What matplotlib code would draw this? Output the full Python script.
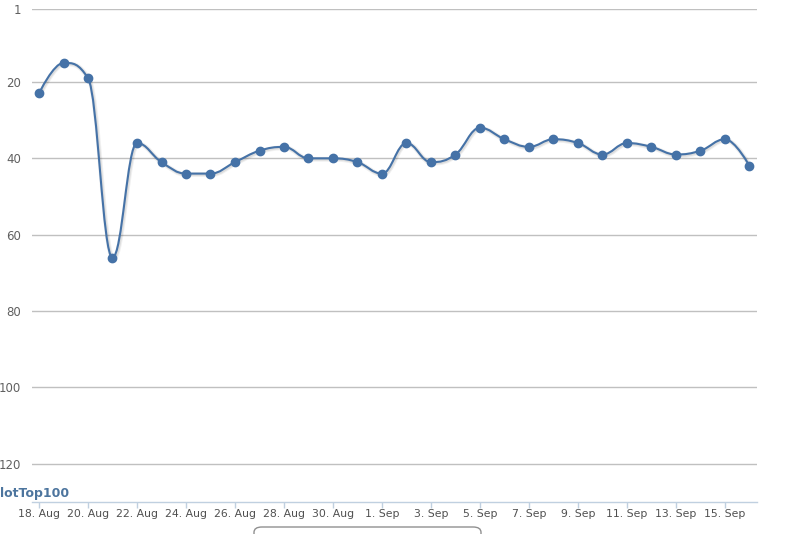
import matplotlib
matplotlib.use("Agg")
import matplotlib.pyplot as plt
from matplotlib.path import Path
from matplotlib.patches import PathPatch, FancyBboxPatch
import numpy as np

# ---- data ----
dates = ["18. Aug", "19. Aug", "20. Aug", "21. Aug", "22. Aug", "23. Aug", "24. Aug", "25. Aug",
         "26. Aug", "27. Aug", "28. Aug", "29. Aug", "30. Aug", "31. Aug", "1. Sep", "2. Sep",
         "3. Sep", "4. Sep", "5. Sep", "6. Sep", "7. Sep", "8. Sep", "9. Sep", "10. Sep",
         "11. Sep", "12. Sep", "13. Sep", "14. Sep", "15. Sep", "16. Sep"]
ranks = [23, 15, 19, 66, 36, 41, 44, 44, 41, 38, 37, 40, 40, 41, 44, 36,
         41, 39, 32, 35, 37, 35, 36, 39, 36, 37, 39, 38, 35, 42]
y_ticks = [1, 20, 40, 60, 80, 100, 120]
x_tick_labels = dates[::2]
title_text = "lotTop100"

W, H = 787, 534
fig = plt.figure(figsize=(W / 100, H / 100), dpi=100)
left, right, top, bottom = 32, 757, 9.4, 502
ax = fig.add_axes([left / W, (H - bottom) / H, (right - left) / W, (bottom - top) / H])

x = np.arange(len(ranks), dtype=float)
y = np.array(ranks, dtype=float)

# Highcharts-style spline control points
def hc_spline(xs, ys, smoothing=1.5):
    denom = smoothing + 1
    n = len(xs)
    lc = [None] * n
    rc = [None] * n
    for i in range(1, n - 1):
        px, py = xs[i], ys[i]
        lx, ly = xs[i - 1], ys[i - 1]
        nx, ny = xs[i + 1], ys[i + 1]
        lcx = (smoothing * px + lx) / denom
        lcy = (smoothing * py + ly) / denom
        rcx = (smoothing * px + nx) / denom
        rcy = (smoothing * py + ny) / denom
        corr = ((rcy - lcy) * (rcx - px)) / (rcx - lcx) + py - rcy
        lcy += corr
        rcy += corr
        if lcy > ly and lcy > py:
            lcy = max(ly, py); rcy = 2 * py - lcy
        elif lcy < ly and lcy < py:
            lcy = min(ly, py); rcy = 2 * py - lcy
        if rcy > ny and rcy > py:
            rcy = max(ny, py); lcy = 2 * py - rcy
        elif rcy < ny and rcy < py:
            rcy = min(ny, py); lcy = 2 * py - rcy
        lc[i] = (lcx, lcy)
        rc[i] = (rcx, rcy)
    verts = [(xs[0], ys[0])]
    codes = [Path.MOVETO]
    for i in range(1, n):
        c1 = rc[i - 1] if rc[i - 1] is not None else (xs[i - 1], ys[i - 1])
        c2 = lc[i] if lc[i] is not None else (xs[i], ys[i])
        verts += [c1, c2, (xs[i], ys[i])]
        codes += [Path.CURVE4] * 3
    return Path(verts, codes)

path = hc_spline(x, y)
color = "#4572A7"
off = matplotlib.transforms.ScaledTranslation(1 / 100, -1 / 100, fig.dpi_scale_trans)
ax.add_patch(PathPatch(path, facecolor="none", edgecolor="black", lw=3.5, alpha=0.06,
                       transform=ax.transData + off, zorder=2))
ax.add_patch(PathPatch(path, facecolor="none", edgecolor="black", lw=2, alpha=0.08,
                       transform=ax.transData + off, zorder=2))
ax.add_patch(PathPatch(path, facecolor="none", edgecolor=color, lw=1.5, zorder=3,
                       capstyle="round", joinstyle="round"))
ax.plot(x, y, linestyle="none", marker="o", markersize=6, color=color, zorder=4)

ax.set_xlim(-7 / 24.5, (757 - 39) / 24.5)
ax.set_ylim(130, 1)
ax.set_yticks(y_ticks)
ax.set_yticklabels([str(t) for t in y_ticks])
ax.set_xticks(x[::2])
ax.set_xticklabels(x_tick_labels)

for s in ["top", "right", "left"]:
    ax.spines[s].set_visible(False)
ax.spines["bottom"].set_color("#C0D0E0")
ax.spines["bottom"].set_linewidth(1)
ax.grid(axis="y", color="#C0C0C0", linewidth=1)
ax.set_axisbelow(True)
ax.tick_params(axis="y", length=0, pad=8, labelsize=8.5, labelcolor="#606060")
ax.tick_params(axis="x", length=4, width=1, color="#C0D0E0", pad=1, labelsize=7.8, labelcolor="#505050")

fig.text(0 / W, 1 - 493 / H, title_text, fontsize=9, fontweight="bold", color="#4D759E",
         ha="left", va="center")

box = FancyBboxPatch((254 / W, -20 / H), (481 - 254) / W, (534 - 527 + 20) / H,
                     boxstyle="round,pad=0,rounding_size=0.01", transform=fig.transFigure,
                     facecolor="none", edgecolor="#909090", lw=1)
fig.patches.append(box)

fig.savefig("out.png", dpi=100)
